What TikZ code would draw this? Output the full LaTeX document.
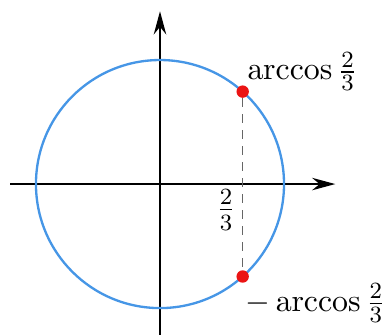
\documentclass[tikz,border=0pt]{standalone}
\usepackage{amsmath}
\usetikzlibrary{arrows.meta,positioning}
\definecolor{circblue}{RGB}{70,150,230}
\definecolor{dotred}{RGB}{235,20,20}
\tikzset{
  axis/.style={thick, -{Stealth[length=2.8mm, width=1.5mm]}},
  dot/.style={circle, fill=dotred, inner sep=0pt, minimum size=1.5mm},
  lbl/.style={font=\fontsize{11}{13}\selectfont}
}
\begin{document}
\begin{tikzpicture}
\useasboundingbox (-1.935,-1.814) rectangle (2.685,2.226);
% axes
\coordinate (xl) at (-1.81,0);
\coordinate (xr) at (2.12,0);
\coordinate (yb) at (0,-1.82);
\coordinate (yt) at (0,2.09);
\draw[axis] (xl) -- (xr);
\draw[axis] (yb) -- (yt);
% unit circle
\draw[circblue, thick] (0,0) circle (1.5);
% points
\node[dot] (p) at (1,1.118) {};
\node[dot] (q) at (1,-1.118) {};
\draw[black!60, dash pattern=on 3pt off 2.5pt] (p) -- (q);
% labels
\node[lbl] (lp) at (1.72,1.36) {$\arccos\frac{2}{3}$};
\node[lbl] (lq) at (1.88,-1.44) {$-\arccos\frac{2}{3}$};
\node[font=\fontsize{12}{14}\selectfont] (lx) at (0.80,-0.31) {$\frac{2}{3}$};
\end{tikzpicture}
\end{document}
